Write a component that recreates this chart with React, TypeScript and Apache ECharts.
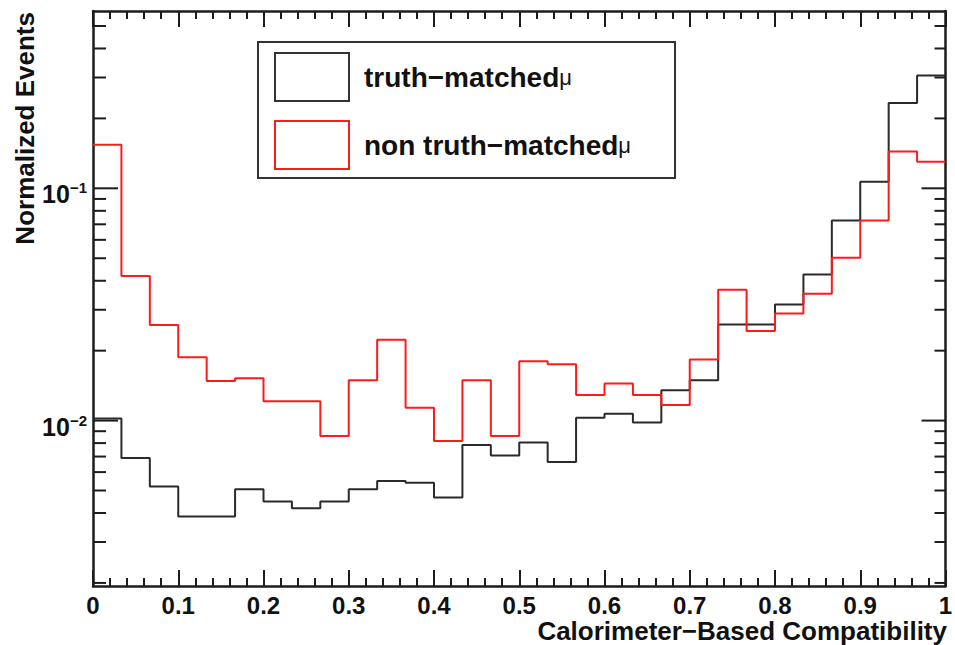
import React, { useEffect, useRef } from "react";
import * as echarts from "echarts";

// ---- data ----
const NBINS = 30;
const truthMatched = [
  0.0102, 0.0069, 0.0052, 0.00386, 0.00386, 0.00506, 0.00448, 0.00419, 0.00448, 0.00506,
  0.00549, 0.0054, 0.00466, 0.00785, 0.00708, 0.00804, 0.00663, 0.01028, 0.01071, 0.0098,
  0.01352, 0.01493, 0.0259, 0.0259, 0.0316, 0.0426, 0.0726, 0.1066, 0.233, 0.306,
];
const nonTruthMatched = [
  0.154, 0.0419, 0.0258, 0.01875, 0.0148, 0.0152, 0.0121, 0.0121, 0.00858, 0.0149,
  0.0223, 0.01136, 0.00817, 0.0149, 0.00858, 0.018, 0.01746, 0.0129, 0.01443, 0.0129,
  0.01167, 0.01833, 0.0366, 0.0243, 0.0289, 0.0352, 0.0502, 0.0726, 0.144, 0.13,
];
const seriesNames = ["truth−matched", "non truth−matched"];
const yMajorTicks = [0.01, 0.1];
const yMinorTicks = [
  0.002, 0.003, 0.004, 0.005, 0.006, 0.007, 0.008, 0.009,
  0.02, 0.03, 0.04, 0.05, 0.06, 0.07, 0.08, 0.09,
  0.2, 0.3, 0.4, 0.5,
];
const xMin = 0;
const xMax = 1;
const xInterval = 0.1;
const yMin = 0.00194;
const yMax = 0.58;

const FONT = "'Liberation Sans', Arial, Helvetica, sans-serif";
const AXIS_COLOR = "#1c1c1c";

function histPoints(vals: number[]) {
  const pts: number[][] = [];
  for (let i = 0; i <= NBINS; i++) {
    pts.push([i / NBINS, vals[Math.min(i, NBINS - 1)]]);
  }
  return pts;
}

export default function App() {
  const ref = useRef<HTMLDivElement>(null);
  useEffect(() => {
    if (!ref.current) return;
    const chart = echarts.init(ref.current, null, { renderer: "svg" });

    const tickData = [
      ...yMajorTicks.map((v) => [0, v, 1]),
      ...yMinorTicks.map((v) => [0, v, 0]),
    ];

    const xAxisCommon = {
      type: "value" as const,
      min: xMin,
      max: xMax,
      interval: xInterval,
      splitLine: { show: false },
      axisLine: { show: true, onZero: false, lineStyle: { color: AXIS_COLOR, width: 2.5 } },
      axisTick: { show: true, inside: true, length: 16, lineStyle: { color: AXIS_COLOR, width: 2 } },
      minorTick: { show: true, splitNumber: 5, length: 8, lineStyle: { color: AXIS_COLOR, width: 2 } },
      minorSplitLine: { show: false },
    };

    chart.setOption({
      animation: false,
      backgroundColor: "#ffffff",
      grid: {
        left: 93,
        right: 9.5,
        top: 11,
        bottom: 59,
        containLabel: false,
        outerBoundsMode: "none",
      },
      xAxis: [
        {
          ...xAxisCommon,
          position: "bottom",
          axisLabel: {
            show: true,
            margin: 8,
            fontSize: 24,
            lineHeight: 22,
            fontWeight: "bold",
            fontFamily: FONT,
            color: "#111",
            formatter: (v: number) =>
              Math.abs(v) < 1e-9 ? "0" : Math.abs(v - 1) < 1e-9 ? "1" : v.toFixed(1),
          },
        },
        {
          ...xAxisCommon,
          position: "top",
          axisLabel: { show: false },
        },
      ],
      yAxis: [
        {
          type: "log",
          logBase: 10,
          min: yMin,
          max: yMax,
          position: "left",
          splitLine: { show: false },
          axisLine: { show: true, onZero: false, lineStyle: { color: AXIS_COLOR, width: 2.5 } },
          axisTick: { show: false },
          minorTick: { show: false },
          axisLabel: {
            show: true,
            margin: 6,
            padding: [12, 0, 0, 0],
            formatter: (v: number) => {
              const e = Math.log10(v);
              const r = Math.round(e);
              if (Math.abs(e - r) > 1e-6) return "";
              return "{b|10}{s|−" + Math.abs(r) + "}";
            },
            rich: {
              b: { fontSize: 25, fontWeight: "bold", fontFamily: FONT, color: "#111", lineHeight: 28 },
              s: {
                fontSize: 15,
                fontWeight: "bold",
                fontFamily: FONT,
                color: "#111",
                lineHeight: 10,
                verticalAlign: "top",
              },
            },
          },
        },
        {
          type: "log",
          logBase: 10,
          min: yMin,
          max: yMax,
          position: "right",
          splitLine: { show: false },
          axisLine: { show: true, onZero: false, lineStyle: { color: AXIS_COLOR, width: 2.5 } },
          axisTick: { show: false },
          minorTick: { show: false },
          axisLabel: { show: false },
        },
      ],
      legend: {
        show: true,
        orient: "vertical",
        left: 258,
        top: 42,
        itemWidth: 74,
        itemHeight: 48,
        itemGap: 18,
        padding: [10, 44, 8, 16],
        borderColor: "#333",
        borderWidth: 2,
        backgroundColor: "#ffffff",
        selectedMode: false,
        data: [
          {
            name: seriesNames[0],
            icon: "rect",
            itemStyle: { color: "rgba(0,0,0,0)", borderColor: "#333", borderWidth: 2 },
          },
          {
            name: seriesNames[1],
            icon: "rect",
            itemStyle: { color: "rgba(0,0,0,0)", borderColor: "#ff1a1a", borderWidth: 2 },
          },
        ],
        formatter: (name: string) => "{t|" + name + "}{mu|μ}",
        textStyle: {
          padding: [0, 0, 0, 10],
          rich: {
            t: { fontSize: 28, fontWeight: "bold", fontFamily: FONT, color: "#111" },
            mu: { fontSize: 22, fontWeight: "normal", fontFamily: FONT, color: "#111" },
          },
        },
      },
      graphic: [
        {
          type: "text",
          x: 25,
          y: 12,
          rotation: Math.PI / 2,
          style: {
            text: "Normalized Events",
            fontSize: 26,
            fontWeight: "bold",
            fontFamily: FONT,
            fill: "#111",
            align: "right",
            verticalAlign: "middle",
          },
        },
        {
          type: "text",
          x: 947,
          y: 631,
          style: {
            text: "Calorimeter−Based Compatibility",
            fontSize: 26,
            lineHeight: 24,
            fontWeight: "bold",
            fontFamily: FONT,
            fill: "#111",
            align: "right",
            verticalAlign: "middle",
          },
        },
      ],
      series: [
        {
          name: seriesNames[0],
          type: "line",
          step: "end",
          symbol: "none",
          xAxisIndex: 0,
          yAxisIndex: 0,
          data: histPoints(truthMatched),
          lineStyle: { color: "#2a2a2a", width: 2 },
          itemStyle: { color: "#2a2a2a" },
          z: 3,
        },
        {
          name: seriesNames[1],
          type: "line",
          step: "end",
          symbol: "none",
          xAxisIndex: 0,
          yAxisIndex: 0,
          data: histPoints(nonTruthMatched),
          lineStyle: { color: "#ff1a1a", width: 2 },
          itemStyle: { color: "#ff1a1a" },
          z: 4,
        },
        {
          name: "yticks",
          type: "custom",
          xAxisIndex: 0,
          yAxisIndex: 0,
          silent: true,
          clip: false,
          encode: { x: 0, y: 1 },
          data: tickData,
          renderItem: (params: any, api: any) => {
            const v = api.value(1);
            const major = api.value(2) === 1;
            const pL = api.coord([xMin, v]);
            const pR = api.coord([xMax, v]);
            const lenL = major ? 25 : 13;
            const lenR = major ? 24 : 11;
            const st = { stroke: AXIS_COLOR, lineWidth: 2 };
            return {
              type: "group",
              children: [
                { type: "line", shape: { x1: pL[0], y1: pL[1], x2: pL[0] + lenL, y2: pL[1] }, style: st },
                { type: "line", shape: { x1: pR[0] - lenR, y1: pR[1], x2: pR[0], y2: pR[1] }, style: st },
              ],
            };
          },
          z: 5,
        },
      ],
    });

    return () => {
      chart.dispose();
    };
  }, []);

  return (
    <div
      ref={ref}
      style={{ position: "fixed", left: 0, top: 0, width: 955, height: 645, background: "#fff" }}
    />
  );
}
